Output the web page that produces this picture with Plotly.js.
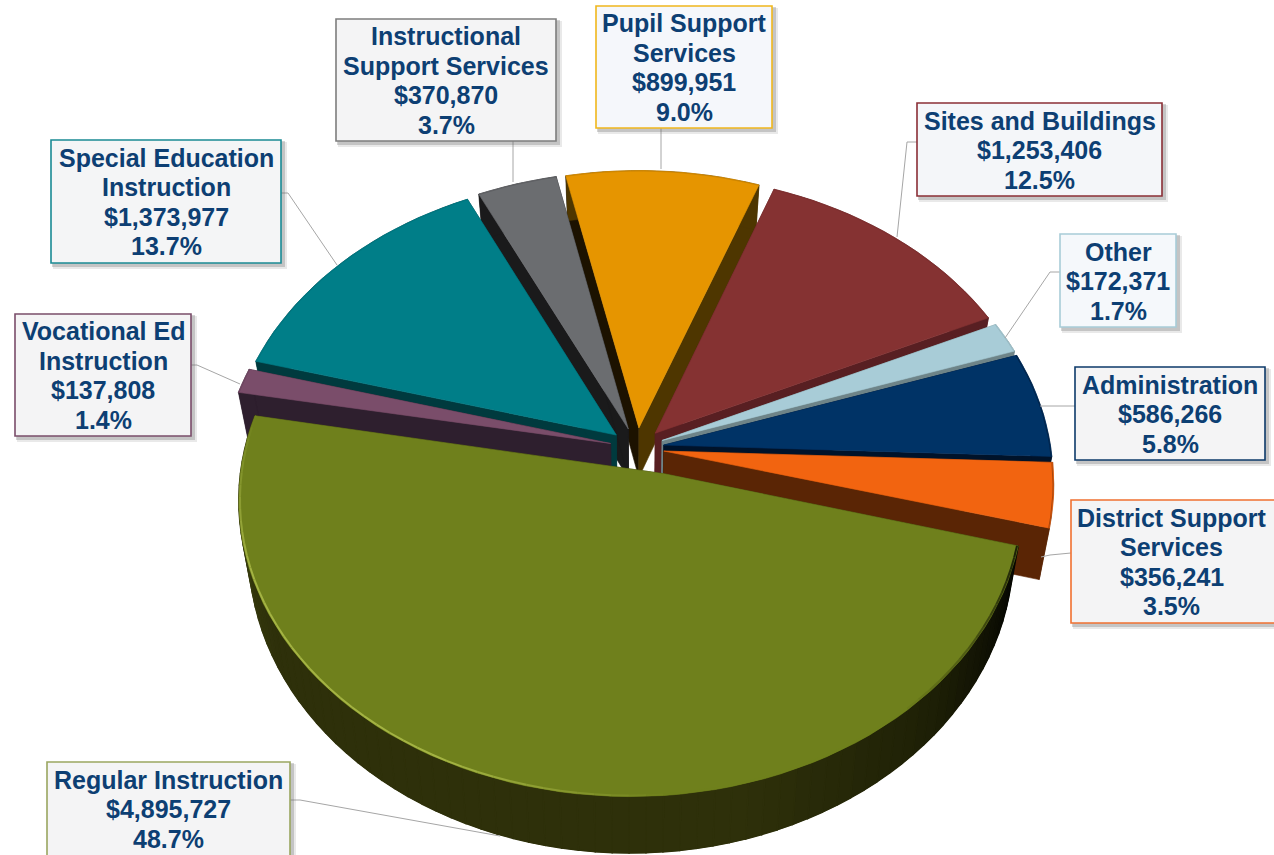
<!DOCTYPE html>
<html>
<head>
<meta charset="utf-8">
<script src="https://cdn.plot.ly/plotly-3.0.1.min.js"></script>
<style>html,body{margin:0;padding:0;background:#fff}#chart{width:1274px;height:855px}</style>
</head>
<body>
<div id="chart"></div>
<script>
// Expenditure by category, clockwise from the lower right of the pie.
const categories = ["Regular Instruction","Vocational Ed Instruction","Special Education Instruction",
  "Instructional Support Services","Pupil Support Services","Sites and Buildings","Other","Administration","District Support Services"];
const amounts = [4895727,137808,1373977,370870,899951,1253406,172371,586266,356241];
const percents = ["48.7%","1.4%","13.7%","3.7%","9.0%","12.5%","1.7%","5.8%","3.5%"];
const labelLines = [["Regular Instruction"],["Vocational Ed","Instruction"],["Special Education","Instruction"],
  ["Instructional","Support Services"],["Pupil Support","Services"],["Sites and Buildings"],["Other"],["Administration"],["District Support","Services"]];

// Slice and label styling, same order as the categories.
const faceColors = ["#6f801c","#7a4d6a","#007e88","#6b6d70","#e69500","#853232","#a8ccd7","#003366","#f26410"];
const wallColors = ["#2e300a","#2e1f2e","#003a3e","#1a1a1b","#4e3600","#581f22","#6e8488","#00132a","#5a2505"];
const leadingWallColors = ["#2e300a","#2e1f2e","#003a3e","#1a1a1b","#1c1200","#581f22","#6e8488","#00132a","#5a2505"];
const edgeMix = [0,0.2,0.15,0.2,0.2,0.2,0.3,0.6,0.6];
const borderColors = ["#9aa660","#7a4d6a","#1a8a94","#7d7d7d","#f0b71c","#8a2f36","#a8ccd7","#0d3a6a","#f07030"];
const boxFills = ["#f4f4f5","#f4f4f5","#f4f5f6","#f4f4f5","#f5f7fb","#f4f6f9","#f5f8fb","#f4f4f5","#f4f4f5"];
const boxes = [[47,762,290,858],[15,314,191,436],[51,140,281,263],[336,19,556,141],[596,6,772,128],
  [917,103,1162,196],[1060,234,1176,327],[1075,367,1265,460],[1071,500,1280,623]];
const leaders = [[[290,800],[300,800],[500,836]],[[191,365],[197,365],[240,384]],[[281,193],[288,193],[337,265]],
  [[513,141],[513,182]],[[661,128],[661,169]],[[917,142],[907,142],[897,237]],[[1060,272],[1050,272],[1005,338]],
  [[1075,406],[1040,406]],[[1071,553],[1050,555],[1041,557]]];

// Camera model of the tilted disc.
const view = {cx:637, cy:448, rx:387, ry:289, persp:0.107, depth:50, taper:0.025, explode:0.07, startDeg:15};
// The large slice's point sits a little right of its radial position.
const tipNudge = {0:[0.085,0.02]};
const lineStep = 29.5;

function project(u, v, z) {
  const w = 1 / (1 - view.persp * v);
  return [view.cx + view.rx * u * w * (1 - view.taper * z), view.cy + (view.ry * v + view.depth * z) * w];
}
const total = amounts.reduce((a, b) => a + b, 0);
let running = view.startDeg * Math.PI / 180;
const slices = amounts.map((val, i) => {
  const a0 = running, a1 = running + val / total * 2 * Math.PI;
  running = a1;
  const mid = (a0 + a1) / 2;
  return {i, a0, a1, mid, ox: view.explode * Math.cos(mid), oy: view.explode * Math.sin(mid)};
});

const traces = [];
function poly(pts, fill, name, width) {
  traces.push({type:"scatter", mode:"lines", x:pts.map(p=>p[0]), y:pts.map(p=>p[1]), fill:"toself",
    fillcolor:fill, line:{color:fill, width:width === undefined ? 0.6 : width}, hoverinfo:"skip", showlegend:false, name});
}
function stroke(pts, color, width, name) {
  traces.push({type:"scatter", mode:"lines", x:pts.map(p=>p[0]), y:pts.map(p=>p[1]),
    line:{color, width}, hoverinfo:"skip", showlegend:false, name});
}
function hex(c){return [1,3,5].map(k=>parseInt(c.substr(k,2),16));}
function mix(c1,c2,t){const a=hex(c1),b=hex(c2);t=Math.max(0,Math.min(1,t));return "rgb("+a.map((x,k)=>Math.round(x+(b[k]-x)*t)).join(",")+")";}

// Rim shading of the large slice: near black on the right, lit toward the left.
function rimColor(a) {
  const d = a * 180 / Math.PI;
  if (d < 45) return mix("#040502","#1e2006",(d-15)/30);
  if (d < 75) return mix("#1e2006","#2e300a",(d-45)/30);
  return mix("#2e300a","#3f4512",(d-150)/40);
}
// Bevel colour of the large slice: shadowed at the right end, bright along the lower left.
function bevelColor(a) {
  const d = a * 180 / Math.PI;
  if (d < 50) return mix("#1a1e06","#6f801c",(d-15)/35);
  if (d < 85) return "#6f801c";
  if (d < 115) return mix("#6f801c","#a4b343",(d-85)/30);
  if (d < 160) return "#a4b343";
  return mix("#a4b343","#6f801c",(d-160)/30);
}

// Draw from the back of the disc to the front so nearer slices overlap.
const order = slices.slice().sort((p, q) => Math.sin(p.mid) - Math.sin(q.mid));
order.forEach(s => {
  const name = categories[s.i];
  const nudge = tipNudge[s.i] || [0,0];
  const at = (a, r, z) => project(s.ox + r * Math.cos(a), s.oy + r * Math.sin(a), z);
  const tip = z => project(s.ox + nudge[0], s.oy + nudge[1], z);
  // Cut faces
  poly([tip(0), at(s.a0,1,0), at(s.a0,1,1), tip(1), tip(0)], leadingWallColors[s.i], name);
  poly([tip(0), at(s.a1,1,0), at(s.a1,1,1), tip(1), tip(0)], wallColors[s.i], name);
  // Outer rim; the large slice is split so its shading can vary around it
  const n = Math.max(2, Math.ceil((s.a1 - s.a0) / 0.04));
  const ring = [];
  for (let k = 0; k <= n; k++) ring.push(s.a0 + (s.a1 - s.a0) * k / n);
  poly(ring.map(a => at(a,1,0)).concat(ring.slice().reverse().map(a => at(a,1,1))), wallColors[s.i], name);
  if (s.i === 0) {
    for (let k = 0; k < n; k++) {
      const c = rimColor((ring[k] + ring[k + 1]) / 2);
      poly([at(ring[k],1,0), at(ring[k+1],1,0), at(ring[k+1],1,1), at(ring[k],1,1), at(ring[k],1,0)], c, name, 1.4);
    }
  }
  // Top face
  poly([tip(0)].concat(ring.map(a => at(a,1,0))).concat([tip(0)]), faceColors[s.i], name);
  // Bevel along the outer edge
  if (s.i === 0) {
    for (let k = 0; k < n; k++) {
      stroke([at(ring[k],0.997,0), at(ring[k+1],0.997,0)], bevelColor((ring[k] + ring[k + 1]) / 2), 2, name);
    }
  } else {
    stroke(ring.map(a => at(a,0.998,0)), mix(faceColors[s.i], wallColors[s.i], edgeMix[s.i]), 0.8, name);
  }
});

// Leader lines
leaders.forEach((pts, i) => stroke(pts, "#a6a6a6", 1, categories[i]));

const fmt = n => "$" + n.toLocaleString("en-US");
const shapes = [], annotations = [];
boxes.forEach((b, i) => {
  shapes.push({type:"rect", x0:b[0]+2, y0:b[1]+2, x1:b[2]+6, y1:b[3]+6, line:{width:0}, fillcolor:"rgba(120,120,120,0.16)"});
  shapes.push({type:"rect", x0:b[0]+1, y0:b[1]+1, x1:b[2]+4, y1:b[3]+4, line:{width:0}, fillcolor:"rgba(100,100,100,0.28)"});
  shapes.push({type:"rect", x0:b[0], y0:b[1], x1:b[2], y1:b[3], line:{color:borderColors[i], width:1.6}, fillcolor:boxFills[i]});
  const textX = i === 8 ? (b[0] + 1272) / 2 : (b[0] + b[2]) / 2;
  const midY = (b[1] + Math.min(b[3], 855)) / 2 + 0.5;
  const lines = labelLines[i].concat([fmt(amounts[i]), percents[i]]);
  lines.forEach((text, k) => annotations.push({x:textX, y:midY + (k - (lines.length - 1) / 2) * lineStep, xref:"x", yref:"y",
    showarrow:false, text, font:{family:"'Liberation Sans', Arial, sans-serif", size:25, color:"#0d3f73", weight:700}}));
});

Plotly.newPlot("chart", traces, {
  width:1274, height:855, margin:{l:0,r:0,t:0,b:0}, paper_bgcolor:"#fff", plot_bgcolor:"#fff", showlegend:false,
  xaxis:{range:[0,1274], visible:false, fixedrange:true},
  yaxis:{range:[855,0], visible:false, fixedrange:true},
  shapes, annotations
}, {displayModeBar:false, staticPlot:true});
</script>
</body>
</html>
